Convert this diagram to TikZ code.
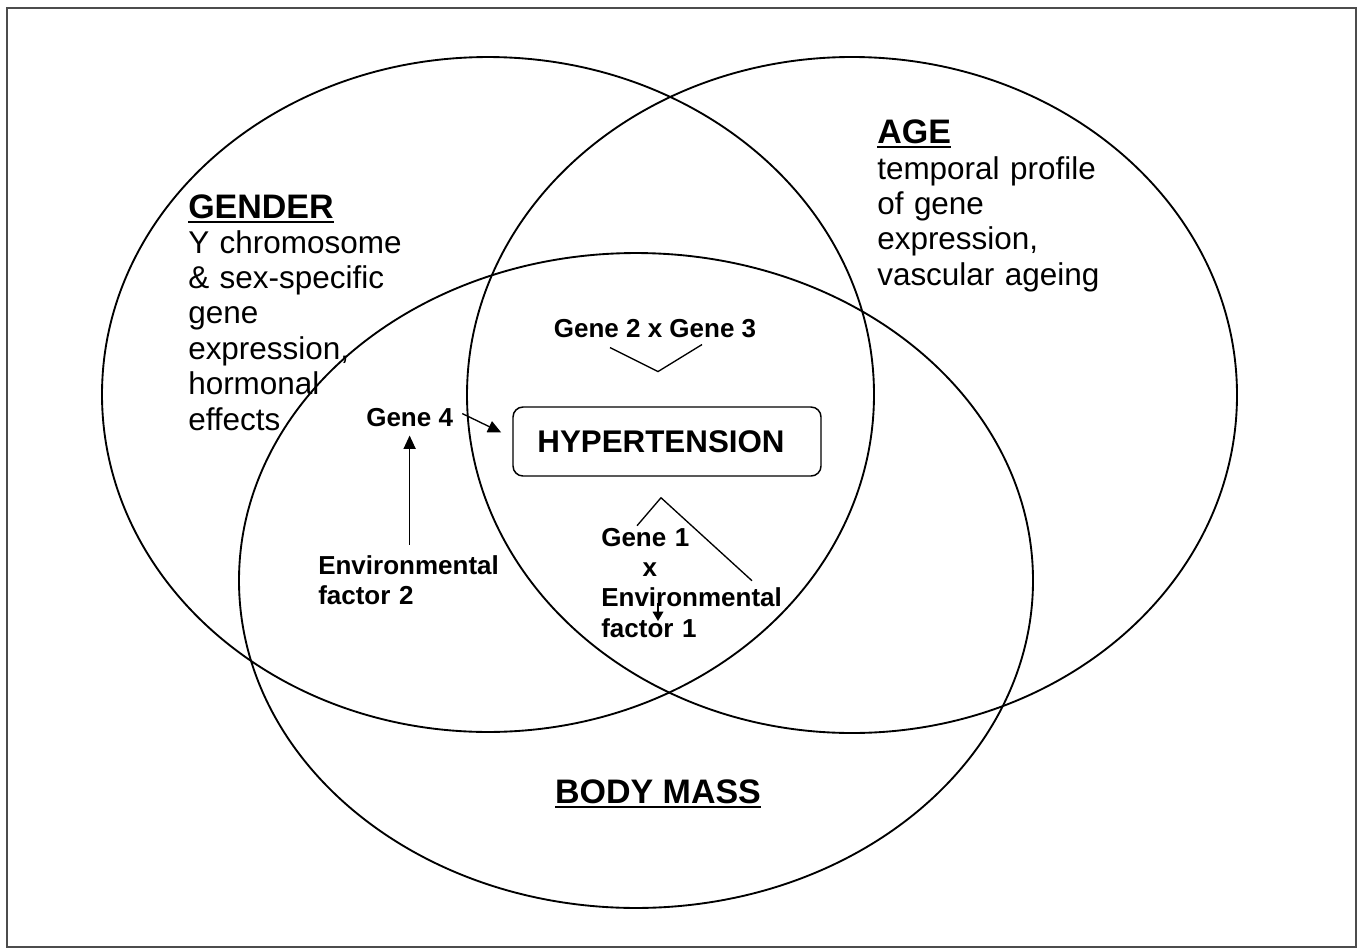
\documentclass[tikz,border=0pt]{standalone}
\usepackage{fontspec}
\setmainfont{Liberation Sans}
\usetikzlibrary{arrows.meta,calc}
% underlined heading word with a thick rule just below the baseline
\newcommand\hdline[1]{\setbox0\hbox{#1}\rlap{\vrule height -2.5pt depth 4pt width \wd0}\box0}

\begin{document}
\begin{tikzpicture}[x=0.75pt,y=-0.75pt,
  ring/.style={draw=black,line width=1.4pt},
  head/.style={inner sep=0pt,font=\fontsize{25.5pt}{26.6pt}\selectfont\bfseries},
  note/.style={inner sep=0pt,font=\fontsize{23.6pt}{26.6pt}\selectfont,align=left,text width=240pt},
  lab/.style={inner sep=0pt,font=\fontsize{19.5pt}{22.8pt}\selectfont\bfseries},
  link/.style={draw=black,line width=1pt},
  arr/.style={link,-{Triangle[length=10pt,width=9pt]}},
  arrsmall/.style={link,-{Triangle[length=7pt,width=8pt]}},
]
\useasboundingbox (0,0) rectangle (1362,949);
\fill[white] (0,0) rectangle (1362,949);
\draw[draw=black!70,line width=1.5pt] (7,8) rectangle (1356,947);

% the three overlapping factor domains
\draw[ring] (488,394.5) ellipse [x radius=289.5pt, y radius=253.1pt];
\draw[ring] (852,395) ellipse [x radius=288.75pt, y radius=253.5pt];
\draw[ring] (636,580.5) ellipse [x radius=297.75pt, y radius=245.6pt];

% domain headings and descriptions
\node[head,anchor=base west] (gender) at (188,218) {\hdline{GENDER}};
\node[note,anchor=base west] (genderTxt) at (188,253)
  {Y chromosome\\ \& sex-specific\\ gene\\ expression,\\ hormonal\\ effects};
\node[head,anchor=base west] (age) at (877,143) {\hdline{AGE}};
\node[note,anchor=base west] (ageTxt) at (877,179)
  {temporal profile\\ of gene\\ expression,\\ vascular ageing};
\node[head,anchor=base] (body) at (658,803) {\hdline{BODY MASS}};

% central outcome
\node[draw=black,line width=1.1pt,rounded corners=7.5pt,minimum width=231pt,
      minimum height=51.75pt,inner sep=0pt,
      font=\fontsize{23.5pt}{26pt}\selectfont\bfseries] (hyp) at (667,441.5)
  {\kern-9pt HYPERTENSION};

% contributing factors
\node[lab,anchor=base] (g23) at (655,337) {Gene 2 x Gene 3};
\node[lab,anchor=base west] (gene4) at (366,426) {Gene 4};
\node[lab,anchor=base west,align=left,text width=150pt] (env2) at (318,574)
  {Environmental\\ factor 2};
\node[lab,anchor=base west,align=left,text width=150pt] (g1) at (601,546)
  {Gene 1\\ \hspace*{31pt}x\\ Environmental\\ factor 1};

% connectors
\coordinate (g23v) at ($(g23.south)+(3,34)$);
\draw[link] ($(g23.south)+(-45,10)$) -- (g23v) -- ($(g23.south)+(47,7)$);

\draw[arr] ($(gene4.east)+(9,-3.5)$) -- ($(hyp.west)+(-11,-9)$);
\draw[arr] ($(env2.north west -| gene4.south)+(0,-10)$) -- ($(gene4.south)+(0,9)$);

\coordinate (g1apex) at ($(hyp.south)+(-6,21)$);
\draw[link] ($(hyp.south)+(-30,49)$) -- (g1apex) -- ($(hyp.south)+(85,104)$);

\coordinate (g1tip) at (658,621);
\draw[arrsmall] ($(g1tip)+(0,-18)$) -- (g1tip);
\end{tikzpicture}
\end{document}
